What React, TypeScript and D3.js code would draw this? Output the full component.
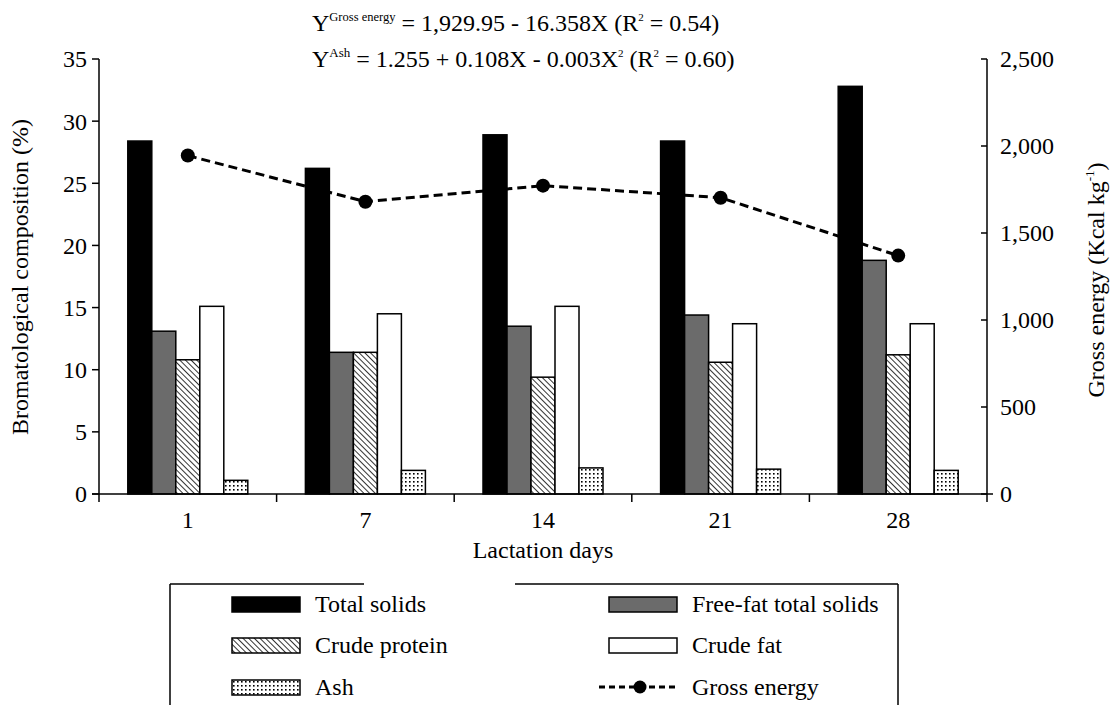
import React from "react";
import * as d3 from "d3";

const days = ["1", "7", "14", "21", "28"];
const totalSolids = [28.4, 26.2, 28.9, 28.4, 32.8];
const freeFatTotalSolids = [13.1, 11.4, 13.5, 14.4, 18.8];
const crudeProtein = [10.8, 11.4, 9.4, 10.6, 11.2];
const crudeFat = [15.1, 14.5, 15.1, 13.7, 13.7];
const ash = [1.1, 1.9, 2.1, 2.0, 1.9];
const grossEnergy = [1945, 1680, 1772, 1703, 1370];

const leftTicks = [0, 5, 10, 15, 20, 25, 30, 35];
const rightTicks = [0, 500, 1000, 1500, 2000, 2500];

const seriesNames = ["Total solids", "Free-fat total solids", "Crude protein", "Crude fat", "Ash"];
const seriesFills = ["#000000", "#6b6b6b", "url(#hatch)", "#ffffff", "url(#dots)"];

const W = 1111;
const H = 705;
const margin = { left: 99, right: 987, top: 59, bottom: 494 };
const TS = { fontFamily: '"Liberation Serif", "Times New Roman", Times, serif' };

export default function App() {
  const series = [totalSolids, freeFatTotalSolids, crudeProtein, crudeFat, ash];
  const x = d3.scaleBand<string>().domain(days).range([margin.left, margin.right]).paddingInner(0).paddingOuter(0);
  const yL = d3.scaleLinear().domain([0, 35]).range([margin.bottom, margin.top]);
  const yR = d3.scaleLinear().domain([0, 2500]).range([margin.bottom, margin.top]);
  const barW = 24;
  const groupW = barW * series.length;
  const fmt = d3.format(",");
  const line = d3
    .line<number>()
    .x((_, i) => (x(days[i]) as number) + x.bandwidth() / 2)
    .y((v) => yR(v));

  const legendRows = [
    [0, 1],
    [2, 3],
    [4, 5],
  ];
  const legendY = [604, 645, 687];
  const legendX = [232, 609];

  return (
    <svg width={W} height={H} style={{ position: "absolute", left: 0, top: 0, background: "#fff" }}>
      <defs>
        <pattern id="hatch" width="4" height="4" patternUnits="userSpaceOnUse" patternTransform="rotate(-45)">
          <rect width="4" height="4" fill="#fff" />
          <line x1="0" y1="0" x2="0" y2="4" stroke="#000" strokeWidth="1.6" />
        </pattern>
        <pattern id="dots" width="4" height="4" patternUnits="userSpaceOnUse">
          <rect width="4" height="4" fill="#fff" />
          <rect x="1" y="1" width="1.6" height="1.6" fill="#000" />
        </pattern>
      </defs>

      {/* equations */}
      <text x={312} y={31} fontSize={24} style={TS}>
        Y<tspan fontSize={12.5} dy={-10}>Gross energy</tspan>
        <tspan dy={10}> = 1,929.95 - 16.358X (R</tspan>
        <tspan fontSize={11} dy={-10}>2</tspan>
        <tspan dy={10}> = 0.54)</tspan>
      </text>
      <text x={312} y={67} fontSize={24} style={TS}>
        Y<tspan fontSize={13} dy={-10}>Ash</tspan>
        <tspan dy={10}> = 1.255 + 0.108X - 0.003X</tspan>
        <tspan fontSize={11} dy={-10}>2</tspan>
        <tspan dy={10}> (R</tspan>
        <tspan fontSize={11} dy={-10}>2</tspan>
        <tspan dy={10}> = 0.60)</tspan>
      </text>

      {/* bars */}
      {days.map((d, gi) => {
        const x0 = (x(d) as number) + (x.bandwidth() - groupW) / 2;
        return (
          <g key={d}>
            {series.map((s, si) => (
              <rect
                key={si}
                x={x0 + si * barW}
                y={yL(s[gi])}
                width={barW}
                height={yL(0) - yL(s[gi])}
                fill={seriesFills[si]}
                stroke="#000"
                strokeWidth={1.5}
              />
            ))}
          </g>
        );
      })}

      {/* gross energy line */}
      <path d={line(grossEnergy) || ""} fill="none" stroke="#000" strokeWidth={3} strokeDasharray="9 5" />
      {grossEnergy.map((v, i) => (
        <circle key={i} cx={(x(days[i]) as number) + x.bandwidth() / 2} cy={yR(v)} r={7} fill="#000" />
      ))}

      {/* axes */}
      <g stroke="#000" strokeWidth={1.5}>
        <line x1={margin.left} y1={margin.top} x2={margin.left} y2={margin.bottom + 8} />
        <line x1={margin.right} y1={margin.top} x2={margin.right} y2={margin.bottom + 8} />
        <line x1={margin.left - 7} y1={margin.bottom} x2={margin.right + 6} y2={margin.bottom} />
        {leftTicks.map((t) => (
          <line key={t} x1={margin.left - 7} x2={margin.left} y1={yL(t)} y2={yL(t)} />
        ))}
        {rightTicks.map((t) => (
          <line key={t} x1={margin.right - 6} x2={margin.right} y1={yR(t)} y2={yR(t)} />
        ))}
        {days.slice(1).map((d) => (
          <line key={d} x1={x(d) as number} x2={x(d) as number} y1={margin.bottom} y2={margin.bottom + 8} />
        ))}
      </g>
      {leftTicks.map((t) => (
        <text key={t} x={87} y={yL(t)} dy="0.35em" textAnchor="end" fontSize={24} style={TS}>
          {t}
        </text>
      ))}
      {rightTicks.map((t) => (
        <text key={t} x={1000} y={yR(t)} dy="0.35em" textAnchor="start" fontSize={24} style={TS}>
          {fmt(t)}
        </text>
      ))}
      {days.map((d) => (
        <text key={d} x={(x(d) as number) + x.bandwidth() / 2} y={528} textAnchor="middle" fontSize={24} style={TS}>
          {d}
        </text>
      ))}
      <text x={543} y={558} textAnchor="middle" fontSize={24} style={TS}>
        Lactation days
      </text>
      <text transform="translate(28,277) rotate(-90)" textAnchor="middle" fontSize={24} style={TS}>
        Bromatological composition (%)
      </text>
      <text transform="translate(1104,280) rotate(-90)" textAnchor="middle" fontSize={24} style={TS}>
        Gross energy (Kcal kg<tspan fontSize={13} dy={-10}>-1</tspan>
        <tspan dy={10}>)</tspan>
      </text>

      {/* legend */}
      <g stroke="#000" strokeWidth={1.5}>
        <line x1={170} y1={584} x2={364} y2={584} />
        <line x1={515} y1={584} x2={898} y2={584} />
        <line x1={170} y1={584} x2={170} y2={705} />
        <line x1={898} y1={584} x2={898} y2={705} />
      </g>
      {legendRows.map((row, ri) =>
        row.map((si, ci) => {
          const lx = legendX[ci];
          const ly = legendY[ri];
          const label = si < 5 ? seriesNames[si] : "Gross energy";
          return (
            <g key={`${ri}-${ci}`}>
              {si < 5 ? (
                <rect x={lx} y={ly - 7} width={68} height={15} fill={seriesFills[si]} stroke="#000" strokeWidth={1.5} />
              ) : (
                <g>
                  <line x1={lx - 10} x2={lx + 70} y1={ly} y2={ly} stroke="#000" strokeWidth={3} strokeDasharray="6 4" />
                  <circle cx={lx + 31} cy={ly} r={6.5} fill="#000" />
                </g>
              )}
              <text x={lx + 83} y={ly} dy="0.35em" fontSize={24} style={TS}>
                {label}
              </text>
            </g>
          );
        })
      )}
    </svg>
  );
}
